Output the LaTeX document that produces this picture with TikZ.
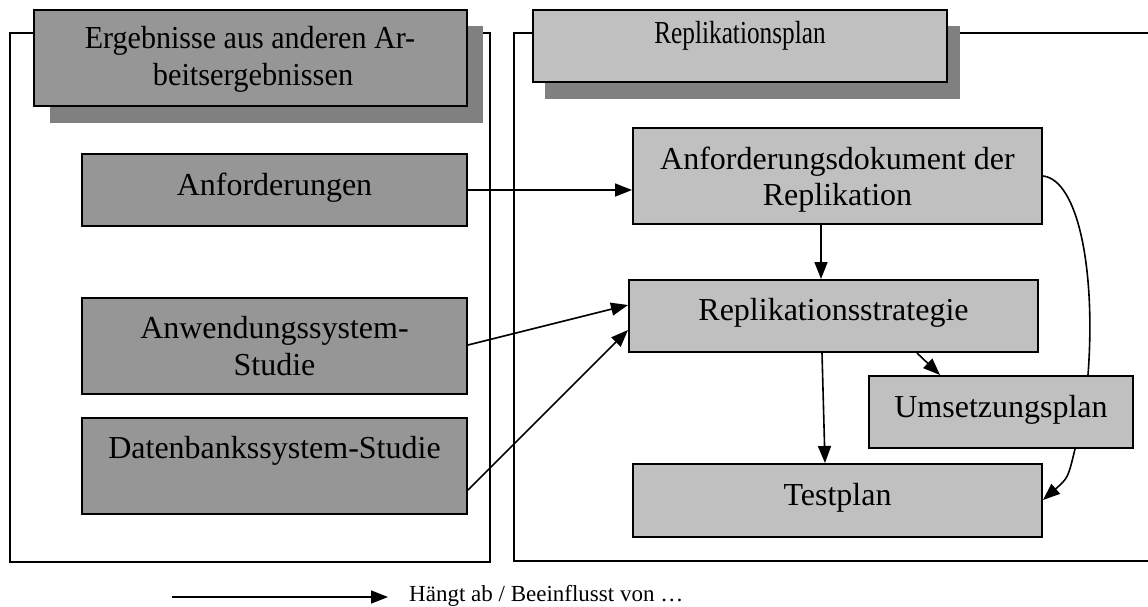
\documentclass[tikz,border=0pt]{standalone}
\usepackage{fontspec}
\usepackage{graphicx}
\setmainfont{Liberation Serif}
\usetikzlibrary{arrows.meta,calc}
\definecolor{darkbox}{HTML}{969696}
\definecolor{lightbox}{HTML}{C0C0C0}
\definecolor{shadowc}{HTML}{808080}
\tikzset{
  boxbase/.style={draw=black, line width=2pt, inner sep=0pt},
  darkb/.style={boxbase, fill=darkbox},
  lightb/.style={boxbase, fill=lightbox},
  txt/.style={anchor=base, inner sep=0pt, font=\fontsize{32}{36}\selectfont},
  frame/.style={draw=black, line width=2pt},
  arr/.style={draw=black, line width=1.6pt, -{Triangle[length=17pt,width=13pt]}},
}
\begin{document}
\begin{tikzpicture}[x=1pt,y=-1pt]
\useasboundingbox (0,0) rectangle (1148,606);
% frames
\draw[frame] (10,33) rectangle (490,562);
\draw[frame] (1150,33) -- (514,33) -- (514,561) -- (1150,561);
% title shadows
\fill[shadowc] (50,26) rectangle (483,123);
\fill[shadowc] (545,26) rectangle (960,99);
% titles
\node[darkb, minimum width=433pt, minimum height=96pt] (tl) at (250,58) {};
\node[txt] (tl1) at (250,48) {\scalebox{0.94}[1]{Ergebnisse aus anderen Ar-}};
\node[txt] (tl2) at (253,85) {\scalebox{0.95}[1]{beitsergebnissen}};
\node[lightb, minimum width=414pt, minimum height=72pt] (tr) at (740,46) {};
\node[txt] (trt) at (740,43) {\scalebox{0.79}[1]{Replikationsplan}};
% left boxes
\node[darkb, minimum width=385pt, minimum height=72pt] (anf) at (274.5,190) {};
\node[txt] (anft) at (274.5,195) {Anforderungen};
\node[darkb, minimum width=385pt, minimum height=96pt] (anw) at (274.5,346) {};
\node[txt] (anw1) at (274.5,338) {Anwendungssystem-};
\node[txt] (anw2) at (274.5,375) {Studie};
\node[darkb, minimum width=385pt, minimum height=96pt] (dbs) at (274.5,466) {};
\node[txt] (dbst) at (274.5,458) {Datenbankssystem-Studie};
% right boxes
\node[lightb, minimum width=409pt, minimum height=96pt] (adok) at (837.5,176) {};
\node[txt] (adok1) at (837.5,169) {Anforderungsdokument der};
\node[txt] (adok2) at (837.5,205) {Replikation};
\node[lightb, minimum width=409pt, minimum height=72pt] (rstrat) at (833.5,316) {};
\node[txt] (rstratt) at (833.5,320) {Replikationsstrategie};
\node[lightb, minimum width=264pt, minimum height=72pt] (ums) at (1001,412) {};
\node[txt] (umst) at (1001,417) {Umsetzungsplan};
\node[lightb, minimum width=409pt, minimum height=73pt] (test) at (837.5,500.5) {};
\node[txt] (testt) at (837.5,505) {Testplan};
% connectors
\draw[arr] (anf.east) -- (adok.west |- anf.east);
\draw[arr] (anw.east |- 0,345) -- (rstrat.west |- 0,305);
\draw[arr] (dbs.east |- 0,490) -- (rstrat.west |- 0,330);
\draw[arr] (adok.south -| 821,0) -- (rstrat.north -| 821,0);
\draw[arr] (rstrat.south -| 822,0) -- (test.north -| 825,0);
\draw[arr] (rstrat.south -| 917,0) -- (ums.north -| 940,0);
\draw[line width=1.6pt] (adok.east) .. controls (1078,180) and (1096,270) .. (ums.north -| 1088,0);
\draw[arr] (ums.south -| 1075,0) .. controls (1068,478) .. (test.east |- 0,500);
% legend
\coordinate (la) at (172,597);
\coordinate (lb) at (388,597);
\draw[arr] (la) -- (lb);
\node[anchor=base west, inner sep=0pt, font=\fontsize{23}{26}\selectfont] (lt) at (409,601)
  {Hängt ab / Beeinflusst von …};
\end{tikzpicture}
\end{document}
